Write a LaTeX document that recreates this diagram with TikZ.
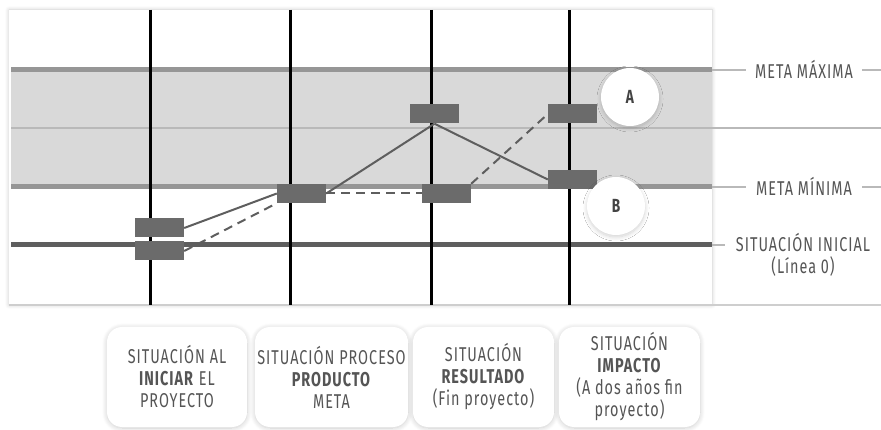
\documentclass[tikz,border=0pt]{standalone}
\usepackage{fontspec}
\setmainfont{Fira Sans}[FakeStretch=0.72,LetterSpace=5]
\usetikzlibrary{shadows.blur}
\definecolor{bandgray}{HTML}{D9D9D9}
\definecolor{metagray}{HTML}{969696}
\definecolor{basegray}{HTML}{5E5E5E}
\definecolor{markgray}{HTML}{6B6B6B}
\definecolor{textgray}{HTML}{555555}
\definecolor{rulegray}{HTML}{B9B9B9}
\tikzset{
  marker/.style={fill=markgray,minimum width=49pt,minimum height=19pt,inner sep=0pt},
  letter/.style={circle,fill=white,minimum size=58pt,inner sep=0pt,text=textgray!80!black,
    blur shadow={shadow blur steps=12,shadow blur radius=4pt,shadow xshift=0pt,
      shadow yshift=-2pt,shadow opacity=18},
    font=\bfseries\fontsize{19}{19}\selectfont},
  goal/.style={fill=white,inner sep=0pt,text=textgray,align=center,
    font=\fontsize{20}{22}\selectfont},
  stage/.style={fill=white,rounded corners=15pt,minimum height=100pt,inner sep=0pt,
    text=textgray,align=center,font=\fontsize{20}{22}\selectfont,
    blur shadow={shadow blur steps=12,shadow blur radius=5pt,shadow xshift=0pt,
      shadow yshift=-1pt,shadow opacity=20}},
  trend/.style={draw=basegray,line width=2pt}
}
\begin{document}
\begin{tikzpicture}[x=1pt,y=-1pt]
  \useasboundingbox (0,0) rectangle (881,430);
  % chart
  \fill[white,blur shadow={shadow blur steps=8,shadow blur radius=4pt,shadow xshift=0pt,
      shadow yshift=0pt,shadow opacity=20}]
    (9,10) rectangle (712,305);
  \fill[bandgray] (11,70) rectangle (712,187);
  \draw[rulegray,line width=1.5pt] (11,128) -- (881,128);
  \draw[rulegray,line width=1.5pt] (712,70) -- (881,70);
  \draw[rulegray,line width=1.5pt] (712,187) -- (881,187);
  \draw[rulegray,line width=1.5pt] (712,245) -- (881,245);
  \draw[rulegray!70,line width=1.5pt] (9,305) -- (881,305);
  \draw[metagray,line width=5pt] (11,70) -- (712,70);
  \draw[metagray,line width=5pt] (11,187) -- (712,187);
  \draw[basegray,line width=5pt] (11,245) -- (712,245);
  \foreach \x in {150,290,431,569}
    \draw[black,line width=3pt] (\x,10) -- (\x,305);
  % markers
  \node[marker] (r1a) at (159.5,228) {};
  \node[marker] (r1b) at (159.5,251) {};
  \node[marker] (r2) at (301.5,193.5) {};
  \node[marker] (r3a) at (434.5,114) {};
  \node[marker] (r3b) at (446.5,193.5) {};
  \node[marker] (r4a) at (572.5,114) {};
  \node[marker] (r4b) at (572.5,179.5) {};
  \begin{scope}[trend]
    \draw (r1a.east) to (r2.west);
    \draw (r2.east) to (r3a.south);
    \draw (r3a.south) to (r4b.west);
    \draw[dash pattern=on 9pt off 6pt] (r1b.east) to (r2.south west);
    \draw[dash pattern=on 9pt off 6pt] (r2.east) to (r3b.west);
    \draw[dash pattern=on 9pt off 6pt] (r3b.north east) to (r4a.west);
  \end{scope}
  % scenarios
  \node[letter] (a) at (630,97) {A};
  \node[letter] (b) at (616,206) {B};
  % levels
  \node[goal,minimum width=116pt,minimum height=25pt] (max) at (804,69.5) {META MÁXIMA};
  \node[goal,minimum width=116pt,minimum height=26pt] (min) at (804,186) {META MÍNIMA};
  \node[goal,minimum width=156pt,minimum height=57pt] (ini) at (803,254.5)
    {SITUACIÓN INICIAL\\(Línea 0)};
  % stages
  \node[stage,minimum width=140pt] (s1) at (177,377)
    {SITUACIÓN AL\\\textbf{INICIAR} EL\\PROYECTO};
  \node[stage,minimum width=153pt] (s2) at (331.5,377)
    {SITUACIÓN PROCESO\\\textbf{PRODUCTO}\\META};
  \node[stage,minimum width=141pt] (s3) at (483.5,377)
    {SITUACIÓN\\\textbf{RESULTADO}\\(Fin proyecto)};
  \node[stage,minimum width=141pt] (s4) at (629.5,377)
    {SITUACIÓN\\\textbf{IMPACTO}\\(A dos años fin\\proyecto)};
\end{tikzpicture}
\end{document}
